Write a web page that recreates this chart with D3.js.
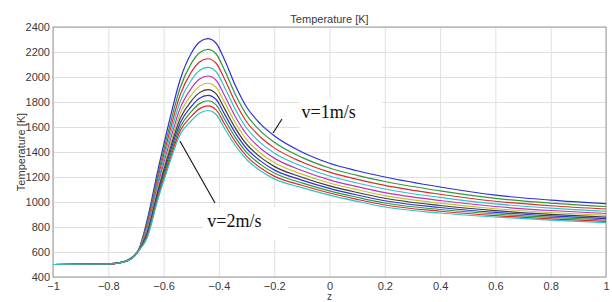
<!DOCTYPE html>
<html>
<head>
<meta charset="utf-8">
<script src="https://cdn.jsdelivr.net/npm/d3@7"></script>
<style>
  body { margin: 0; background: #fff; }
  svg { display: block; }
  .tick text { font-family: "Liberation Sans", Arial, sans-serif; font-size: 11px; fill: #3a3a3a; }
</style>
</head>
<body>
<div id="chart"></div>
<script>
// axial position z (shared grid for every curve)
const zValues = [-1, -0.8, -0.76, -0.73, -0.71, -0.69, -0.66, -0.62, -0.58, -0.54, -0.5, -0.47, -0.44,
    -0.41, -0.38, -0.34, -0.3, -0.25, -0.2, -0.1, 0, 0.1, 0.2, 0.4, 0.6, 0.8, 1];

// temperature [K], one row per inlet velocity
const velocities = [1.0, 1.1, 1.2, 1.3, 1.4, 1.5, 1.6, 1.7, 1.8, 1.9, 2.0];
const temps = [
    [500, 505, 515, 535, 565, 620, 850, 1260, 1640, 1980, 2190, 2280, 2307, 2270, 2140, 1930, 1760, 1625, 1530, 1400, 1310, 1250, 1200, 1120, 1055, 1015, 987],
    [500, 505, 515, 534, 564, 618, 829, 1225, 1589, 1914, 2109, 2194, 2221, 2184, 2057, 1858, 1697, 1569, 1478, 1357, 1272, 1213, 1164, 1089, 1029, 991, 964],
    [500, 505, 515, 534, 562, 617, 811, 1194, 1545, 1857, 2039, 2120, 2146, 2110, 1986, 1796, 1642, 1520, 1433, 1320, 1239, 1181, 1133, 1062, 1006, 970, 944],
    [500, 505, 514, 533, 561, 616, 794, 1166, 1504, 1804, 1974, 2052, 2077, 2042, 1920, 1738, 1592, 1475, 1392, 1286, 1208, 1152, 1104, 1037, 985, 951, 926],
    [500, 505, 514, 532, 560, 615, 777, 1138, 1463, 1751, 1909, 1984, 2008, 1974, 1854, 1680, 1542, 1430, 1351, 1252, 1177, 1123, 1075, 1012, 964, 932, 908],
    [500, 504, 513, 532, 559, 614, 763, 1114, 1429, 1707, 1855, 1927, 1950, 1917, 1799, 1632, 1500, 1392, 1316, 1223, 1152, 1098, 1051, 991, 946, 916, 893],
    [500, 504, 513, 531, 559, 613, 751, 1093, 1399, 1668, 1807, 1875, 1899, 1865, 1749, 1589, 1462, 1359, 1285, 1198, 1129, 1076, 1030, 972, 931, 901, 879],
    [500, 504, 513, 531, 558, 612, 739, 1074, 1371, 1632, 1763, 1830, 1853, 1820, 1705, 1551, 1428, 1329, 1257, 1175, 1109, 1056, 1010, 956, 917, 889, 867],
    [500, 504, 512, 531, 557, 611, 729, 1057, 1346, 1599, 1723, 1787, 1810, 1777, 1664, 1515, 1397, 1301, 1232, 1153, 1089, 1038, 992, 940, 904, 877, 856],
    [500, 504, 512, 530, 557, 611, 719, 1040, 1322, 1569, 1685, 1747, 1769, 1737, 1626, 1481, 1367, 1274, 1207, 1134, 1072, 1021, 976, 926, 891, 865, 845],
    [500, 504, 512, 530, 556, 610, 710, 1025, 1300, 1540, 1650, 1710, 1732, 1700, 1590, 1450, 1340, 1250, 1185, 1115, 1055, 1005, 960, 912, 880, 855, 835]
];
const lineColors = ['#2f2fd8', '#2a9a3c', '#e02a2a', '#2cc4c4', '#c22fc2', '#c2c22f', '#3c3c3c',
    '#2f2fd8', '#2a9a3c', '#e02a2a', '#2cc4c4'];

const xTicks = [-1, -0.8, -0.6, -0.4, -0.2, 0, 0.2, 0.4, 0.6, 0.8, 1];
const yTicks = [400, 600, 800, 1000, 1200, 1400, 1600, 1800, 2000, 2200, 2400];

// callouts, given in data coordinates
const callouts = [
    { text: 'v=1m/s', tx: -0.101, ty: 1670, from: [-0.204, 1552], to: [-0.172, 1664], box: [-0.107, 0.19, 1832, 1560] },
    { text: 'v=2m/s', tx: -0.442, ty: 798, from: [-0.541, 1488], to: [-0.414, 992], box: [-0.458, -0.15, 960, 696] }
];

const W = 612, H = 302;
const margin = { top: 27, right: 6, bottom: 25, left: 53 };
const iw = W - margin.left - margin.right;
const ih = H - margin.top - margin.bottom;

const svg = d3.select('#chart').append('svg')
    .attr('width', W)
    .attr('height', H);

const x = d3.scaleLinear().domain([-1, 1]).range([0, iw]);
const y = d3.scaleLinear().domain([400, 2400]).range([ih, 0]);

const g = svg.append('g').attr('transform', `translate(${margin.left},${margin.top})`);

// grid + labels
g.append('g')
    .attr('transform', `translate(0,${ih})`)
    .call(d3.axisBottom(x).tickValues(xTicks).tickSize(-ih).tickPadding(5).tickFormat(d3.format('')))
    .call(a => a.select('.domain').remove())
    .call(a => a.selectAll('line').attr('stroke', '#e0e0e0'));

g.append('g')
    .call(d3.axisLeft(y).tickValues(yTicks).tickSize(-iw).tickPadding(3).tickFormat(d3.format('d')))
    .call(a => a.select('.domain').remove())
    .call(a => a.selectAll('line').attr('stroke', '#e0e0e0'));

g.append('rect')
    .attr('width', iw)
    .attr('height', ih)
    .attr('fill', 'none')
    .attr('stroke', '#9a9a9a');

// curves
g.append('clipPath').attr('id', 'clip')
    .append('rect').attr('width', iw).attr('height', ih);

const line = d3.line()
    .x((d, i) => x(zValues[i]))
    .y(d => y(d))
    .curve(d3.curveMonotoneX);

g.append('g')
    .attr('clip-path', 'url(#clip)')
    .selectAll('path')
    .data(temps)
    .enter().append('path')
    .attr('d', line)
    .attr('fill', 'none')
    .attr('stroke', (d, i) => lineColors[i])
    .attr('stroke-width', 1.2);

// callouts
callouts.forEach(c => {
    g.append('rect')
        .attr('x', x(c.box[0]))
        .attr('y', y(c.box[2]))
        .attr('width', x(c.box[1]) - x(c.box[0]))
        .attr('height', y(c.box[3]) - y(c.box[2]))
        .attr('fill', '#fff');
    g.append('line')
        .attr('x1', x(c.from[0])).attr('y1', y(c.from[1]))
        .attr('x2', x(c.to[0])).attr('y2', y(c.to[1]))
        .attr('stroke', '#111')
        .attr('stroke-width', 1.1);
    g.append('text')
        .attr('x', x(c.tx))
        .attr('y', y(c.ty))
        .attr('font-family', '"Liberation Serif", "Times New Roman", serif')
        .attr('font-size', 18)
        .attr('fill', '#111')
        .text(c.text);
});

// titles
svg.append('text')
    .attr('x', margin.left + iw / 2)
    .attr('y', 23)
    .attr('text-anchor', 'middle')
    .attr('font-family', '"Liberation Sans", Arial, sans-serif')
    .attr('font-size', 11)
    .attr('fill', '#3a3a3a')
    .text('Temperature [K]');

svg.append('text')
    .attr('transform', `translate(25,${margin.top + ih / 2}) rotate(-90)`)
    .attr('text-anchor', 'middle')
    .attr('font-family', '"Liberation Sans", Arial, sans-serif')
    .attr('font-size', 11)
    .attr('fill', '#3a3a3a')
    .text('Temperature [K]');

svg.append('text')
    .attr('x', margin.left + iw / 2)
    .attr('y', 300)
    .attr('text-anchor', 'middle')
    .attr('font-family', '"Liberation Sans", Arial, sans-serif')
    .attr('font-size', 10)
    .attr('fill', '#3a3a3a')
    .text('z');
</script>
</body>
</html>
